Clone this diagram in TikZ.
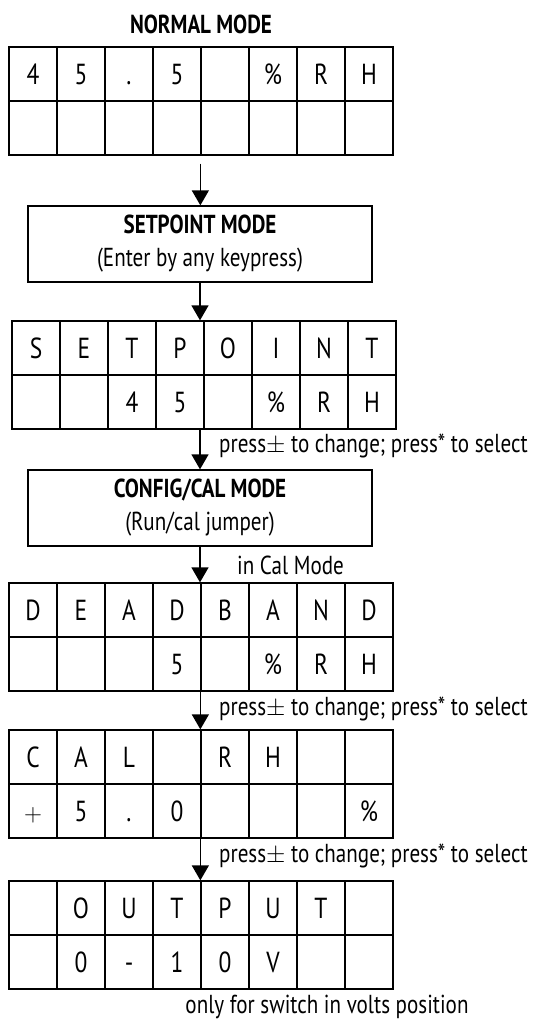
\documentclass[tikz,border=0pt]{standalone}
\usepackage{fontspec}
\setmainfont{PT Sans}[FakeStretch=0.81]
\usetikzlibrary{positioning,arrows.meta}

\begin{document}
\begin{tikzpicture}[x=1pt,y=1pt,
    every node/.style={font=\fontsize{26}{33}\selectfont},
    cell/.style={draw,line width=1.3pt,minimum width=48pt,minimum height=54pt,
                 inner sep=0pt,text height=20.3pt,text depth=0pt,
                 font=\fontsize{29}{29}\selectfont},
    modebox/.style={draw,line width=1.3pt,minimum width=344pt,minimum height=76pt,
                    align=center,inner sep=0pt},
    flow/.style={line width=1.3pt,-{Triangle[length=15pt,width=17pt]}},
    note/.style={anchor=west,inner sep=0pt}]
  \useasboundingbox (0,0) rectangle (539,-1021);

  % ---------------- Normal mode title ----------------
  \node[font=\fontsize{26}{33}\selectfont\bfseries] (title) at (201,-24) {NORMAL MODE};

  % ---------------- LCD displays (2 rows x 8 chars) ----------------
  \foreach \g/\ytop/\xl/\ra/\rb in {
      1/47/9/{4,5,.,5,{},\%,R,H}/{{},{},{},{},{},{},{},{}},
      2/321/12/{S,E,T,P,O,I,N,T}/{{},{},4,5,{},\%,R,H},
      3/583/9/{D,E,A,D,B,A,N,D}/{{},{},{},5,{},\%,R,H},
      4/730/9/{C,A,L,{},R,H,{},{}}/{$+$,5,.,0,{},{},{},\%},
      5/881/9/{{},O,U,T,P,U,T,{}}/{{},0,-,1,0,V,{},{}}}{
    \foreach \c [count=\j] in \ra{
      \node[cell] (d\g-1-\j) at (\xl+48*\j-24,-\ytop-27) {\c};
    }
    \foreach \c [count=\j] in \rb{
      \node[cell] (d\g-2-\j) at (\xl+48*\j-24,-\ytop-81) {\c};
    }
  }

  % ---------------- Mode boxes ----------------
  \node[modebox] (spbox) at (200,-244) {\textbf{SETPOINT MODE}\\(Enter by any keypress)};
  \node[modebox] (cfbox) at (200,-508) {\textbf{CONFIG/CAL MODE}\\(Run/cal jumper)};

  % ---------------- Flow arrows ----------------
  \draw[flow,shorten <=8pt] (d1-2-5.south west) -- (d1-2-5.south west |- spbox.north);
  \draw[flow] (spbox.south) -- (spbox.south |- d2-1-5.north);
  \draw[flow] (spbox.south |- d2-2-5.south) -- (cfbox.north);
  \draw[flow] (cfbox.south) -- (cfbox.south |- d3-1-5.north);
  \draw[flow] (d3-2-5.south west) -- (d4-1-5.north west);
  \draw[flow] (d4-2-5.south west) -- (d5-1-5.north west);

  % ---------------- Notes ----------------
  \node[note] (nt1) at (219,-446) {press$\pm$ to change; press* to select};
  \node[note] (nt2) at (237,-565) {in Cal Mode};
  \node[note] (nt3) at (219,-709) {press$\pm$ to change; press* to select};
  \node[note] (nt4) at (219,-856) {press$\pm$ to change; press* to select};
  \node[inner sep=0pt] (nt5) at (327,-1007) {only for switch in volts position};
\end{tikzpicture}
\end{document}
